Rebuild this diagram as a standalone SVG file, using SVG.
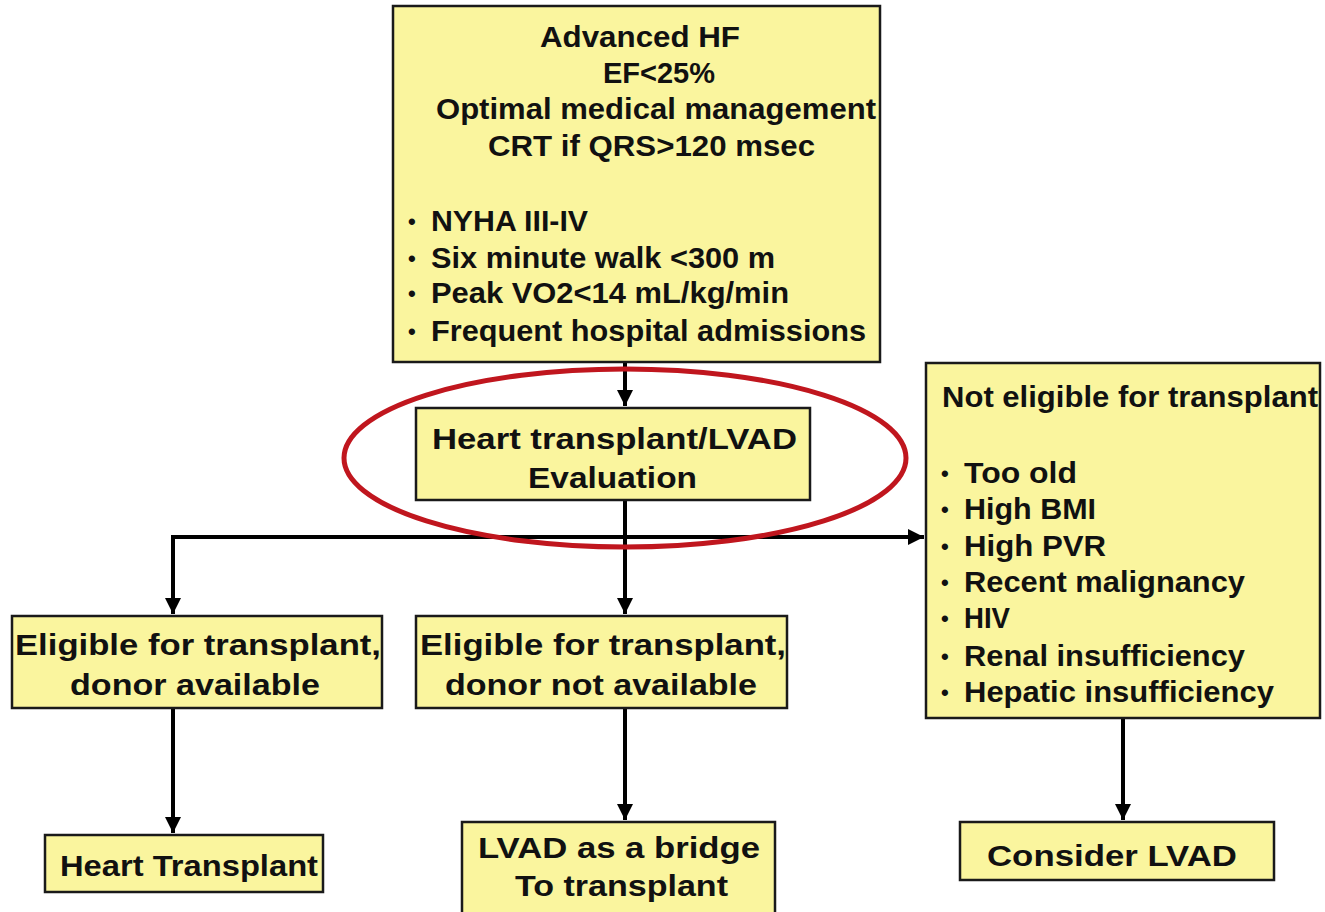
<svg xmlns="http://www.w3.org/2000/svg" width="1325" height="912" viewBox="0 0 1325 912">
<style>
.box{fill:#FAF59E;stroke:#1a1a1a;stroke-width:2.5}
.t{font-family:"Liberation Sans",Arial,sans-serif;font-weight:bold;font-size:29px;fill:#111}
.b{font-family:"Liberation Sans",Arial,sans-serif;font-weight:bold;font-size:22px;fill:#111}
.c{stroke:#000;stroke-width:4;fill:none}
</style>
<defs>
<marker id="ah" markerUnits="userSpaceOnUse" markerWidth="16" markerHeight="18" refX="16" refY="8" orient="auto">
<path d="M0,0 L16,8 L0,16 Z" fill="#000"/>
</marker>
</defs>
<rect width="1325" height="912" fill="#fff"/>
<g id="connectors">
<line class="c" x1="625" y1="362" x2="625" y2="406" marker-end="url(#ah)"/>
<line class="c" x1="625" y1="500" x2="625" y2="614" marker-end="url(#ah)"/>
<polyline class="c" points="173,614 173,537 924,537" marker-end="url(#ah)"/>
<line class="c" x1="173" y1="537" x2="173" y2="614" marker-end="url(#ah)"/>
<line class="c" x1="173" y1="708" x2="173" y2="833" marker-end="url(#ah)"/>
<line class="c" x1="625" y1="708" x2="625" y2="820" marker-end="url(#ah)"/>
<line class="c" x1="1123" y1="718" x2="1123" y2="820" marker-end="url(#ah)"/>
</g>
<g id="n-advanced">
<rect class="box" x="393" y="6" width="487" height="356"/>
<text class="t" x="540" y="47" textLength="200" lengthAdjust="spacingAndGlyphs">Advanced HF</text>
<text class="t" x="603" y="83" textLength="112" lengthAdjust="spacingAndGlyphs">EF&lt;25%</text>
<text class="t" x="436" y="119" textLength="440" lengthAdjust="spacingAndGlyphs">Optimal medical management</text>
<text class="t" x="488" y="156" textLength="327" lengthAdjust="spacingAndGlyphs">CRT if QRS&gt;120 msec</text>
<text class="b" x="408" y="229">•</text>
<text class="t" x="431" y="231" textLength="157" lengthAdjust="spacingAndGlyphs">NYHA III-IV</text>
<text class="b" x="408" y="266">•</text>
<text class="t" x="431" y="268" textLength="344" lengthAdjust="spacingAndGlyphs">Six minute walk &lt;300 m</text>
<text class="b" x="408" y="301">•</text>
<text class="t" x="431" y="303" textLength="358" lengthAdjust="spacingAndGlyphs">Peak VO2&lt;14 mL/kg/min</text>
<text class="b" x="408" y="339">•</text>
<text class="t" x="431" y="341" textLength="435" lengthAdjust="spacingAndGlyphs">Frequent hospital admissions</text>
</g>
<g id="n-evaluation">
<rect class="box" x="416" y="408" width="394" height="92"/>
<text class="t" x="432" y="449" textLength="365" lengthAdjust="spacingAndGlyphs">Heart transplant/LVAD</text>
<text class="t" x="528" y="488" textLength="169" lengthAdjust="spacingAndGlyphs">Evaluation</text>
</g>
<g id="highlight">
<ellipse cx="625" cy="458" rx="281" ry="89" fill="none" stroke="#C0161E" stroke-width="5"/>
</g>
<g id="n-not-eligible">
<rect class="box" x="926" y="363" width="394" height="355"/>
<text class="t" x="942" y="407" textLength="376" lengthAdjust="spacingAndGlyphs">Not eligible for transplant</text>
<text class="b" x="941" y="481">•</text>
<text class="t" x="964" y="483" textLength="113" lengthAdjust="spacingAndGlyphs">Too old</text>
<text class="b" x="941" y="517">•</text>
<text class="t" x="964" y="519" textLength="132" lengthAdjust="spacingAndGlyphs">High BMI</text>
<text class="b" x="941" y="554">•</text>
<text class="t" x="964" y="556" textLength="142" lengthAdjust="spacingAndGlyphs">High PVR</text>
<text class="b" x="941" y="590">•</text>
<text class="t" x="964" y="592" textLength="281" lengthAdjust="spacingAndGlyphs">Recent malignancy</text>
<text class="b" x="941" y="626">•</text>
<text class="t" x="964" y="628" textLength="46" lengthAdjust="spacingAndGlyphs">HIV</text>
<text class="b" x="941" y="664">•</text>
<text class="t" x="964" y="666" textLength="281" lengthAdjust="spacingAndGlyphs">Renal insufficiency</text>
<text class="b" x="941" y="700">•</text>
<text class="t" x="964" y="702" textLength="310" lengthAdjust="spacingAndGlyphs">Hepatic insufficiency</text>
</g>
<g id="n-eligible-available">
<rect class="box" x="12" y="616" width="370" height="92"/>
<text class="t" x="15" y="655" textLength="366" lengthAdjust="spacingAndGlyphs">Eligible for transplant,</text>
<text class="t" x="70" y="695" textLength="250" lengthAdjust="spacingAndGlyphs">donor available</text>
</g>
<g id="n-eligible-not-available">
<rect class="box" x="416" y="616" width="371" height="92"/>
<text class="t" x="420" y="655" textLength="366" lengthAdjust="spacingAndGlyphs">Eligible for transplant,</text>
<text class="t" x="445" y="695" textLength="312" lengthAdjust="spacingAndGlyphs">donor not available</text>
</g>
<g id="n-heart-transplant">
<rect class="box" x="45" y="835" width="278" height="57"/>
<text class="t" x="60" y="876" textLength="258" lengthAdjust="spacingAndGlyphs">Heart Transplant</text>
</g>
<g id="n-lvad-bridge">
<rect class="box" x="462" y="822" width="313" height="95"/>
<text class="t" x="478" y="858" textLength="282" lengthAdjust="spacingAndGlyphs">LVAD as a bridge</text>
<text class="t" x="515" y="896" textLength="213" lengthAdjust="spacingAndGlyphs">To transplant</text>
</g>
<g id="n-consider-lvad">
<rect class="box" x="960" y="822" width="314" height="58"/>
<text class="t" x="987" y="866" textLength="250" lengthAdjust="spacingAndGlyphs">Consider LVAD</text>
</g>
</svg>
